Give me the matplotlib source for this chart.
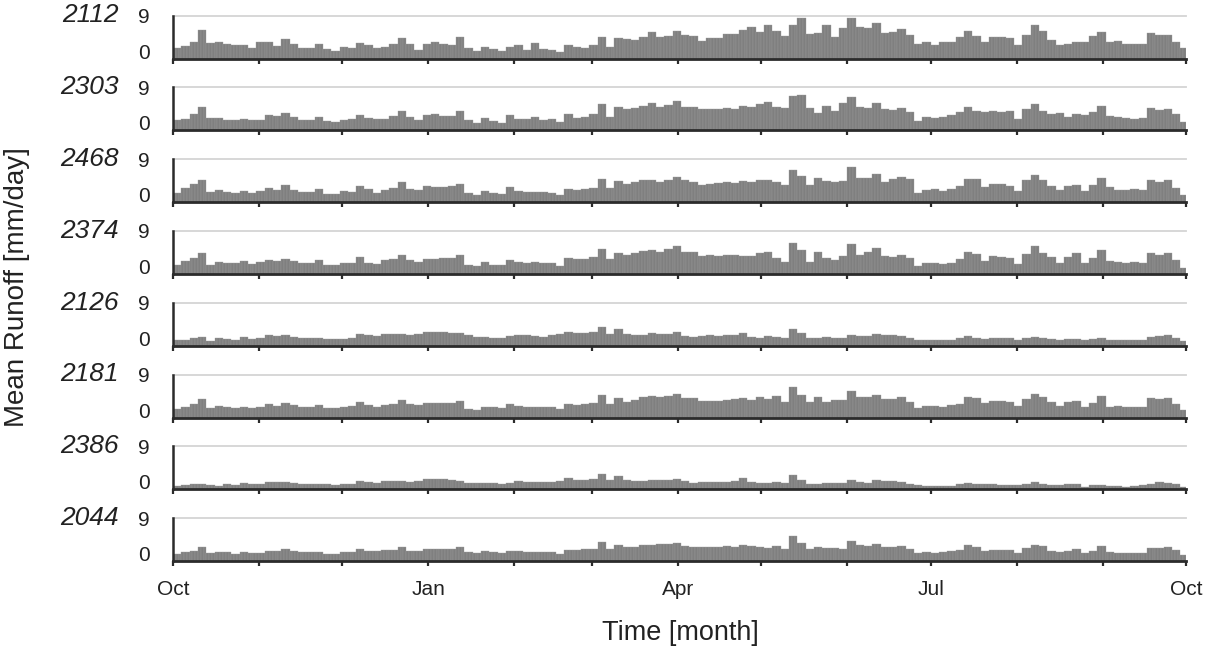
import numpy as np
import matplotlib
matplotlib.use('Agg')
import matplotlib.pyplot as plt

# Mean runoff per station, read as 3-day steps (Oct 1 -> Sep 30)
STATIONS = ["2112", "2303", "2468", "2374", "2126", "2181", "2386", "2044"]

runoff_2112 = [2.2, 2.6, 3.6, 6.0, 3.2, 3.4, 3.1, 2.8, 2.9, 2.2,
               3.6, 3.6, 2.6, 4.2, 3.0, 2.3, 2.3, 3.0, 2.0, 1.7,
               2.5, 2.2, 3.3, 2.8, 2.2, 2.5, 3.0, 4.3, 3.0, 1.9,
               3.0, 3.5, 3.0, 2.9, 4.5, 2.3, 1.6, 2.4, 2.0, 1.6,
               2.5, 2.8, 1.9, 3.3, 2.0, 1.8, 1.4, 2.8, 2.5, 2.3,
               2.8, 4.6, 2.4, 4.3, 4.2, 3.9, 4.6, 5.5, 4.5, 4.8,
               5.9, 5.0, 4.8, 3.8, 4.3, 4.4, 5.1, 5.2, 6.0, 6.6,
               5.6, 7.0, 5.8, 4.8, 7.0, 8.5, 5.2, 5.3, 7.0, 4.5,
               6.5, 8.5, 6.6, 6.4, 7.5, 5.3, 5.5, 6.3, 5.0, 3.0,
               3.5, 2.9, 3.6, 3.5, 4.5, 5.8, 4.8, 3.4, 4.6, 4.6,
               4.4, 2.8, 5.0, 7.0, 5.7, 4.0, 2.8, 3.1, 3.5, 3.6,
               4.8, 5.5, 3.4, 3.7, 3.0, 3.0, 3.1, 5.3, 4.9, 5.0,
               3.6, 2.2]
runoff_2303 = [2.1, 2.5, 3.5, 5.0, 2.6, 2.7, 2.1, 2.1, 2.5, 2.2,
               2.2, 3.3, 3.1, 3.6, 2.8, 2.2, 2.1, 2.9, 1.9, 1.8,
               2.2, 2.3, 3.2, 2.6, 2.3, 2.4, 3.1, 4.0, 2.9, 2.2,
               3.2, 3.4, 3.0, 3.0, 4.0, 2.2, 1.6, 2.6, 2.0, 1.6,
               3.2, 2.5, 2.3, 2.9, 2.2, 2.4, 1.8, 3.4, 2.6, 2.8,
               3.4, 5.6, 2.8, 5.0, 4.5, 4.6, 5.1, 5.8, 5.0, 5.3,
               6.2, 5.0, 4.9, 4.4, 4.5, 4.5, 4.8, 4.4, 5.2, 5.0,
               5.5, 6.0, 4.9, 4.6, 7.2, 7.5, 4.8, 3.7, 5.2, 4.0,
               5.8, 7.0, 5.0, 4.6, 5.8, 4.4, 4.3, 4.8, 3.8, 2.0,
               2.8, 2.6, 2.9, 3.3, 3.8, 5.0, 4.1, 3.9, 4.0, 3.8,
               4.1, 2.3, 4.5, 5.5, 4.0, 3.4, 3.6, 2.8, 3.5, 3.3,
               3.9, 5.2, 3.0, 2.8, 2.6, 2.3, 2.7, 4.8, 4.2, 4.5,
               3.5, 1.8]
runoff_2468 = [2.0, 2.9, 3.8, 4.6, 2.2, 2.6, 2.2, 1.9, 2.3, 1.9,
               2.3, 2.9, 2.5, 3.5, 2.5, 2.1, 2.2, 2.8, 1.8, 1.7,
               2.4, 2.2, 3.4, 2.7, 2.0, 2.6, 3.0, 4.2, 2.8, 2.5,
               3.4, 3.2, 3.2, 3.3, 3.8, 2.0, 1.6, 2.3, 1.9, 1.8,
               3.2, 2.3, 2.1, 2.2, 2.1, 2.0, 1.5, 2.8, 2.6, 2.7,
               3.0, 4.8, 2.9, 4.5, 3.9, 4.2, 4.6, 4.7, 4.3, 4.7,
               5.3, 4.6, 4.2, 3.6, 3.8, 4.0, 4.2, 4.0, 4.5, 4.3,
               4.6, 4.7, 4.2, 3.6, 6.8, 5.5, 3.6, 5.0, 4.5, 4.2,
               4.5, 7.4, 5.0, 5.0, 6.0, 4.2, 4.9, 5.3, 4.9, 2.0,
               2.5, 2.8, 2.4, 2.7, 3.4, 4.8, 4.8, 3.2, 3.9, 3.8,
               3.4, 2.4, 4.6, 5.8, 4.6, 3.4, 2.5, 3.3, 3.7, 2.3,
               3.5, 5.0, 3.2, 2.6, 2.5, 2.8, 2.6, 4.6, 4.3, 4.6,
               3.0, 1.6]
runoff_2374 = [1.8, 2.7, 3.3, 4.4, 1.9, 2.6, 2.3, 2.3, 2.7, 2.1,
               2.5, 3.0, 2.7, 3.2, 2.8, 2.2, 2.2, 3.0, 1.9, 1.8,
               2.3, 2.4, 3.6, 2.4, 2.1, 3.0, 3.2, 4.0, 2.9, 2.6,
               3.2, 3.1, 3.4, 3.3, 4.0, 1.8, 1.6, 2.6, 1.8, 1.8,
               3.0, 2.5, 2.3, 2.5, 2.2, 2.3, 1.6, 3.4, 3.1, 3.2,
               3.5, 5.2, 3.1, 4.4, 4.0, 4.4, 4.9, 5.1, 4.6, 5.3,
               5.8, 4.6, 4.5, 3.8, 3.9, 3.8, 4.0, 3.9, 3.7, 3.8,
               4.4, 4.6, 3.4, 2.6, 6.5, 5.0, 2.5, 4.5, 3.3, 3.0,
               3.8, 6.3, 4.0, 4.5, 5.5, 3.7, 3.6, 3.9, 3.3, 1.7,
               2.2, 2.2, 2.1, 2.3, 3.2, 4.6, 4.2, 2.8, 3.7, 3.5,
               3.3, 2.0, 4.2, 5.8, 4.4, 3.6, 2.2, 3.6, 4.3, 2.2,
               3.3, 5.0, 2.8, 2.6, 2.2, 2.5, 2.3, 4.4, 3.9, 4.3,
               3.0, 1.3]
runoff_2126 = [1.2, 1.3, 1.7, 1.9, 1.0, 1.6, 1.5, 1.3, 1.8, 1.5,
               1.7, 2.2, 2.0, 2.2, 1.8, 1.7, 1.7, 1.7, 1.5, 1.4,
               1.5, 1.6, 2.5, 2.3, 2.1, 2.5, 2.4, 2.5, 2.2, 2.5,
               2.8, 2.9, 2.8, 2.7, 2.6, 2.3, 1.8, 1.9, 1.7, 1.7,
               2.0, 2.2, 2.2, 2.1, 1.9, 2.2, 2.4, 2.9, 2.6, 2.6,
               2.8, 4.0, 2.5, 3.4, 2.5, 2.3, 2.3, 2.6, 2.5, 2.5,
               2.9, 2.1, 1.9, 2.1, 2.2, 2.1, 2.3, 2.2, 2.7, 1.8,
               1.6, 2.1, 1.8, 1.7, 3.4, 2.6, 1.7, 1.7, 1.8, 1.6,
               1.7, 2.2, 2.1, 2.0, 2.5, 2.3, 2.3, 2.0, 1.7, 1.3,
               1.2, 1.2, 1.2, 1.3, 1.6, 2.0, 1.7, 1.5, 1.7, 1.6,
               1.6, 1.3, 1.7, 1.9, 1.6, 1.4, 1.2, 1.5, 1.5, 1.1,
               1.5, 1.6, 1.3, 1.1, 1.2, 1.2, 1.3, 1.9, 2.0, 2.2,
               1.6, 0.9]
runoff_2181 = [1.8, 2.3, 2.8, 3.8, 2.0, 2.4, 2.1, 1.9, 2.3, 1.9,
               2.3, 2.8, 2.5, 3.1, 2.6, 2.1, 2.2, 2.6, 2.0, 1.9,
               2.3, 2.5, 3.2, 2.6, 2.3, 2.6, 2.9, 3.6, 2.8, 2.6,
               3.1, 3.1, 3.0, 3.1, 3.5, 1.8, 1.6, 2.2, 2.1, 1.9,
               2.8, 2.4, 2.2, 2.2, 2.1, 2.1, 1.8, 2.9, 2.6, 2.8,
               3.1, 4.8, 2.8, 4.0, 3.3, 3.6, 4.2, 4.6, 4.3, 4.6,
               5.0, 4.1, 4.0, 3.4, 3.5, 3.5, 3.7, 3.9, 4.0, 3.7,
               4.3, 3.8, 4.6, 3.2, 6.3, 4.8, 3.2, 4.2, 3.3, 3.6,
               3.6, 5.6, 4.2, 4.3, 4.8, 3.9, 3.8, 4.2, 3.3, 1.9,
               2.4, 2.4, 2.3, 2.6, 2.9, 4.3, 4.1, 3.1, 3.4, 3.4,
               3.2, 2.4, 3.9, 5.0, 4.3, 3.2, 2.5, 3.2, 3.5, 2.3,
               3.1, 4.6, 2.3, 2.5, 2.1, 2.1, 2.2, 4.1, 3.8, 4.1,
               2.8, 1.6]
runoff_2386 = [0.7, 0.8, 1.0, 1.2, 0.8, 0.6, 1.0, 0.9, 1.3, 1.0,
               1.1, 1.6, 1.5, 1.6, 1.3, 1.1, 1.2, 1.1, 1.0, 0.9,
               1.0, 1.1, 1.8, 1.6, 1.4, 1.7, 1.7, 1.8, 1.6, 1.7,
               2.1, 2.1, 2.2, 1.9, 1.8, 1.4, 1.3, 1.4, 1.3, 1.2,
               1.4, 1.7, 1.6, 1.5, 1.5, 1.6, 1.7, 2.3, 1.9, 1.9,
               2.1, 3.1, 2.0, 2.8, 2.0, 1.7, 1.7, 1.9, 1.9, 1.9,
               2.2, 1.7, 1.4, 1.6, 1.6, 1.6, 1.6, 1.7, 2.3, 1.5,
               1.3, 1.4, 1.6, 1.3, 2.9, 2.0, 1.2, 1.1, 1.3, 1.3,
               1.4, 1.9, 1.5, 1.4, 2.0, 1.8, 1.7, 1.5, 1.2, 0.8,
               0.7, 0.6, 0.7, 0.7, 1.0, 1.3, 1.2, 1.1, 1.1, 0.9,
               0.8, 0.8, 1.2, 1.5, 1.0, 0.9, 0.8, 1.0, 1.1, 0.5,
               0.9, 0.9, 0.6, 0.6, 0.5, 0.6, 0.8, 1.1, 1.5, 1.3,
               1.0, 0.5]
runoff_2044 = [1.4, 1.8, 2.1, 3.0, 1.6, 1.8, 1.8, 1.5, 1.9, 1.6,
               1.7, 2.2, 2.0, 2.5, 2.1, 1.8, 1.8, 1.9, 1.5, 1.4,
               1.8, 1.9, 2.6, 2.2, 2.1, 2.3, 2.4, 3.0, 2.2, 2.1,
               2.5, 2.5, 2.6, 2.5, 3.0, 1.8, 1.7, 2.1, 1.8, 1.6,
               2.0, 2.2, 1.9, 1.9, 1.8, 1.8, 1.5, 2.3, 2.3, 2.5,
               2.6, 3.9, 2.5, 3.3, 3.0, 3.0, 3.3, 3.4, 3.5, 3.5,
               3.8, 3.1, 3.0, 2.9, 3.0, 2.9, 3.1, 3.0, 3.3, 3.1,
               3.0, 2.8, 3.2, 2.6, 5.2, 3.8, 2.6, 3.0, 2.7, 2.8,
               2.6, 4.2, 3.3, 3.2, 3.6, 3.0, 3.0, 3.2, 2.6, 1.7,
               1.8, 1.7, 1.8, 2.0, 2.3, 3.3, 3.0, 2.2, 2.3, 2.4,
               2.3, 1.7, 2.8, 3.4, 3.1, 2.1, 1.8, 2.2, 2.5, 1.6,
               2.2, 3.2, 1.8, 1.7, 1.6, 1.7, 1.7, 2.8, 2.8, 3.0,
               2.3, 1.3]

SERIES = [runoff_2112, runoff_2303, runoff_2468, runoff_2374,
          runoff_2126, runoff_2181, runoff_2386, runoff_2044]

# month starts (day of hydrological year), labels only every 3 months
MONTH_STARTS = [0, 31, 61, 92, 123, 151, 182, 212, 243, 273, 304, 335, 365]
MONTH_LABELS = ["Oct", "", "", "Jan", "", "", "Apr", "", "", "Jul", "", "", "Oct"]

N_DAYS = 365
STEP = 3

BAR_COLOR = "#7f7f7f"
BAR_EDGE = "#9c9c9c"
AXIS_COLOR = "#2b2b2b"
GRID_COLOR = "#d4d4d4"
TEXT_COLOR = "#222222"

plt.rcParams['font.family'] = ['Liberation Sans', 'DejaVu Sans']

W, H = 1205, 648
fig = plt.figure(figsize=(W / 100, H / 100), dpi=100)

left_px, right_px = 173, 1186
top0_px, base0_px = 15.7, 58.7
pitch_px = 71.76

days = np.arange(N_DAYS)

for i, (name, vals) in enumerate(zip(STATIONS, SERIES)):
    daily = np.repeat(np.array(vals), STEP)[:N_DAYS]
    top = top0_px + i * pitch_px
    base = base0_px + i * pitch_px
    ax = fig.add_axes([left_px / W, 1 - base / H, (right_px - left_px) / W, (base - top) / H])

    ax.bar(days + 0.5, daily, width=1.0, color=BAR_COLOR, edgecolor=BAR_EDGE,
           linewidth=0.25, zorder=2)
    ax.axhline(9, color=GRID_COLOR, lw=1.3, zorder=1, clip_on=False)

    ax.set_xlim(0, N_DAYS)
    ax.set_ylim(0, 9)

    for s in ['top', 'right']:
        ax.spines[s].set_visible(False)
    ax.spines['bottom'].set_color(AXIS_COLOR)
    ax.spines['bottom'].set_linewidth(2.0)
    ax.spines['left'].set_color(AXIS_COLOR)
    ax.spines['left'].set_linewidth(1.8)
    ax.spines['bottom'].set_zorder(3)

    ax.set_xticks(MONTH_STARTS)
    if i == len(STATIONS) - 1:
        ax.set_xticklabels(MONTH_LABELS, fontsize=15, color=TEXT_COLOR)
    else:
        ax.set_xticklabels([])
    ax.tick_params(axis='x', direction='out', length=3.5, width=1.6, color=AXIS_COLOR, pad=10)

    ax.set_yticks([0, 9])
    ax.set_yticklabels(["0", "9"], fontsize=15, color=TEXT_COLOR)
    ax.tick_params(axis='y', length=0, pad=17)
    ax.yaxis.get_major_ticks()[0].label1.set_verticalalignment('baseline')

    fig.text(119 / W, 1 - (top - 0.2) / H, name, ha='right', va='center',
             fontsize=19, style='italic', color=TEXT_COLOR)

fig.text(17 / W, 1 - 287 / H, "Mean Runoff [mm/day]", rotation=90, ha='center', va='center',
         fontsize=20, color=TEXT_COLOR)
fig.text(680 / W, 1 - 633 / H, "Time [month]", ha='center', va='center',
         fontsize=19.5, color=TEXT_COLOR)

fig.savefig('out.png', dpi=100)
